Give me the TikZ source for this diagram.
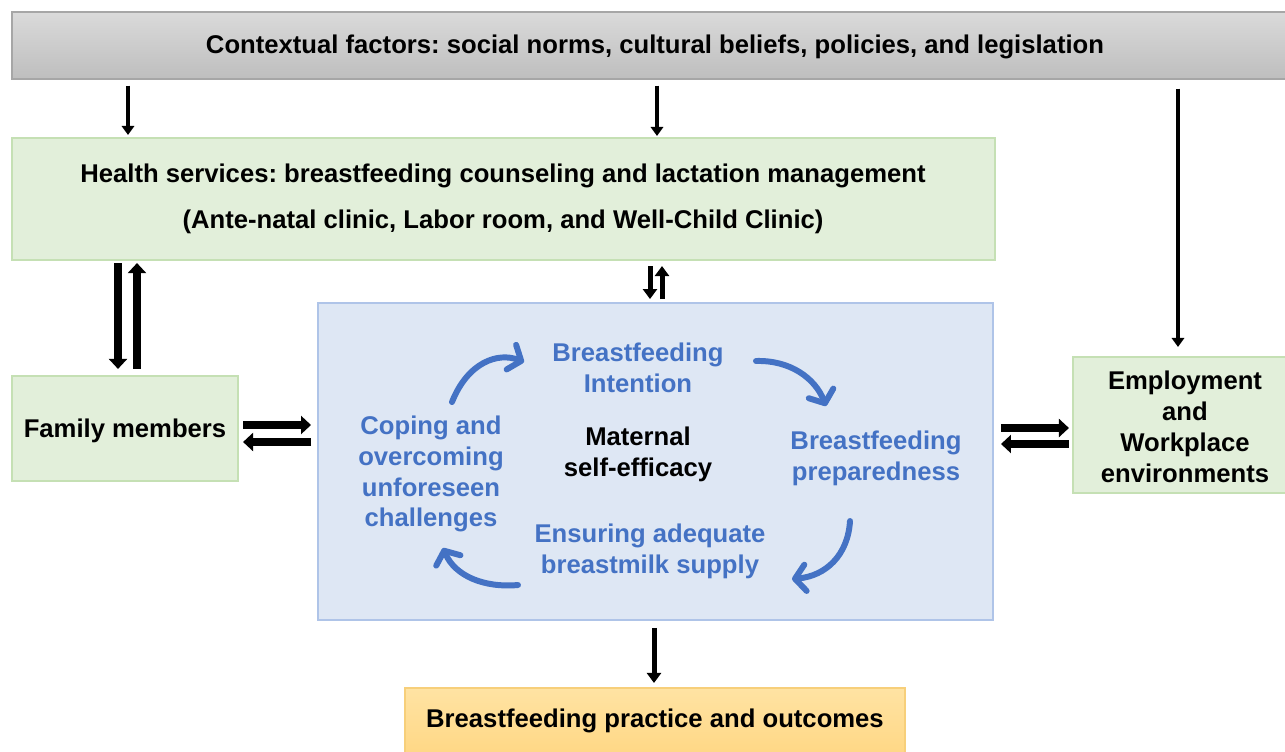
\documentclass[tikz,border=0pt]{standalone}
\usepackage{fontspec}
\setmainfont{Liberation Sans}
\usetikzlibrary{arrows.meta,fit}
\frenchspacing
\definecolor{topA}{HTML}{DADADA}
\definecolor{topB}{HTML}{BEBEBE}
\definecolor{topD}{HTML}{A6A6A6}
\definecolor{grF}{HTML}{E2EFDA}
\definecolor{grD}{HTML}{C5E0B4}
\definecolor{blF}{HTML}{DEE7F4}
\definecolor{blD}{HTML}{AFC4E8}
\definecolor{orA}{HTML}{FFE3A3}
\definecolor{orB}{HTML}{FFD47C}
\definecolor{orD}{HTML}{F7CF7A}
\definecolor{cyc}{HTML}{4472C4}
\tikzset{
  every node/.style={font=\fontsize{14.6pt}{17.6pt}\selectfont\bfseries\frenchspacing, align=center, inner sep=0pt},
  greenbox/.style={fill=grF, draw=grD, line width=1.2pt},
  arrthin/.style={line width=2.3pt, -{Triangle[length=5.1pt,width=7pt]}},
  arrmid/.style={line width=2.85pt, -{Triangle[length=5.7pt,width=8pt]}},
  arrthick/.style={line width=4pt, -{Triangle[length=5.7pt,width=10.2pt]}},
  cycarrow/.style={cyc, line width=3.4pt, line cap=round, -{Straight Barb[round,length=6pt,width=15pt]}},
  cyctext/.style={text=cyc},
}
\begin{document}
\begin{tikzpicture}[x=0.02cm,y=-0.02cm]
\useasboundingbox (0,0) rectangle (1285,751);
% boxes
\node[fit={(12,12) (1290,79)}, top color=topA, bottom color=topB, draw=topD, line width=0.8pt] (top) {};
\node at (655,47) {Contextual factors: social norms, cultural beliefs, policies, and legislation};
\node[greenbox, fit={(12,138) (995,260)}] (health) {};
\node at (503,199) {Health services: breastfeeding counseling and lactation management\\[8.6pt]
(Ante-natal clinic, Labor room, and Well-Child Clinic)};
\node[greenbox, fit={(12,376) (238,481)}] (fam) {};
\node at (125,431) {Family members};
\node[fill=blF, draw=blD, line width=1.1pt, fit={(318,303) (993,620)}] (self) {};
\node[greenbox, fit={(1073,357) (1290,493)}] (emp) {};
\node at (1185,427) {Employment\\and\\Workplace\\environments};
\node[fit={(405,688) (905,775)}, top color=orA, bottom color=orB, draw=orD, line width=1.2pt] (out) {};
\node at (655,721) {Breastfeeding practice and outcomes};
% cycle texts
\node[cyctext] (intent) at (638,368) {Breastfeeding\\Intention};
\node[cyctext] (prep) at (876,458) {Breastfeeding\\preparedness};
\node[cyctext] (supply) at (650,551) {Ensuring adequate\\breastmilk supply};
\node[cyctext] (cope) at (431,474) {Coping and\\overcoming\\unforeseen\\challenges};
\node (mat) at (638,454) {Maternal\\self-efficacy};
% cycle arrows
\draw[cycarrow] (452,402) .. controls (468,362) and (498,352) .. (524,362);
\draw[cycarrow] (756,361) .. controls (790,360) and (815,378) .. (826,406);
\draw[cycarrow] (850,521) .. controls (848,555) and (826,576) .. (792,579);
\draw[cycarrow] (518,585) .. controls (484,588) and (455,576) .. (443,548);
% black arrows
\draw[arrthin] ([yshift=-6*0.02cm]top.south -| 128,0) -- ([yshift=2*0.02cm]health.north -| 128,0);
\draw[arrthin] ([yshift=-6*0.02cm]top.south -| 657,0) -- ([yshift=1*0.02cm]health.north -| 657,0);
\draw[arrthin] ([yshift=-9*0.02cm]top.south -| 1178,0) -- ([yshift=9*0.02cm]emp.north -| 1178,0);
\draw[arrthick] ([yshift=-2*0.02cm]health.south -| 118,0) -- ([yshift=6*0.02cm]fam.north -| 118,0);
\draw[arrthick] ([yshift=6*0.02cm]fam.north -| 137,0) -- ([yshift=-2*0.02cm]health.south -| 137,0);
\draw[arrmid] ([yshift=-5*0.02cm]health.south -| 650,0) -- ([yshift=3*0.02cm]self.north -| 650,0);
\draw[arrmid] ([yshift=3*0.02cm]self.north -| 662,0) -- ([yshift=-5*0.02cm]health.south -| 662,0);
\draw[arrthick] ([xshift=4*0.02cm]fam.east |- 0,425) -- ([xshift=-6*0.02cm]self.west |- 0,425);
\draw[arrthick] ([xshift=-6*0.02cm]self.west |- 0,442) -- ([xshift=4*0.02cm]fam.east |- 0,442);
\draw[arrthick] ([xshift=7*0.02cm]self.east |- 0,428) -- ([xshift=-3*0.02cm]emp.west |- 0,428);
\draw[arrthick] ([xshift=-3*0.02cm]emp.west |- 0,444) -- ([xshift=7*0.02cm]self.east |- 0,444);
\draw[arrmid] ([yshift=-7*0.02cm]self.south -| 654,0) -- ([yshift=4*0.02cm]out.north -| 654,0);
\end{tikzpicture}
\end{document}
